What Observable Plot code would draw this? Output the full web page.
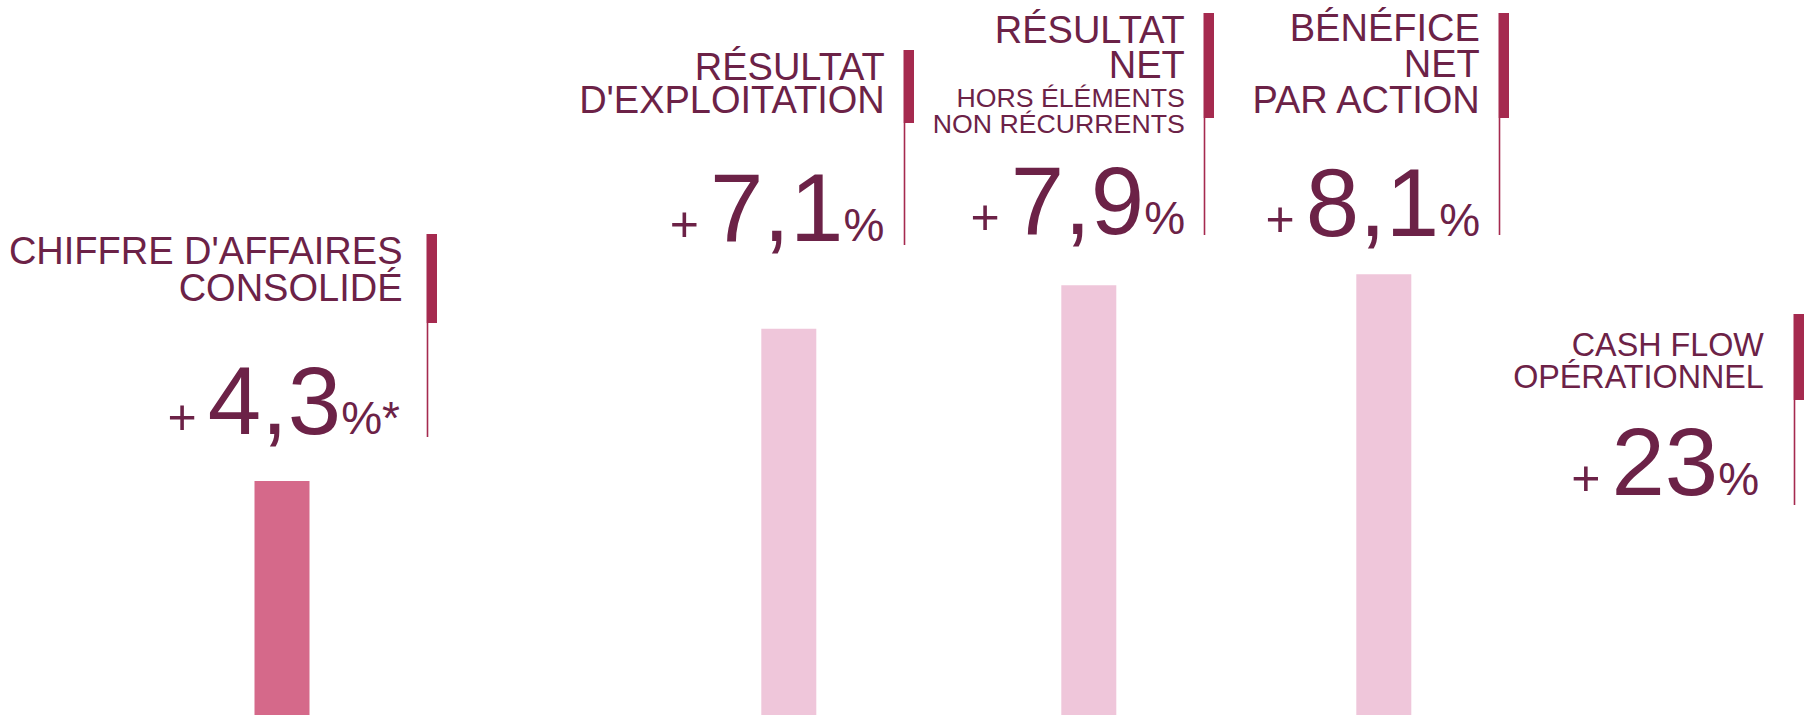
<!DOCTYPE html>
<html>
<head>
<meta charset="utf-8">
<script src="https://cdn.jsdelivr.net/npm/d3@7"></script>
<script src="https://cdn.jsdelivr.net/npm/@observablehq/plot@0.6"></script>
<style>
  html, body { margin: 0; padding: 0; background: #fff; overflow: hidden; }
</style>
</head>
<body>
<div id="chart"></div>
<script>
// ---------- DATA ----------
const categories = [
  ["CHIFFRE D'AFFAIRES", "CONSOLIDÉ"],
  ["RÉSULTAT", "D'EXPLOITATION"],
  ["RÉSULTAT", "NET"],
  ["BÉNÉFICE", "NET", "PAR ACTION"],
  ["CASH FLOW", "OPÉRATIONNEL"]
];
const notes = [[], [], ["HORS ÉLÉMENTS", "NON RÉCURRENTS"], [], []];
const values = [4.3, 7.1, 7.9, 8.1, 23];
const valueLabels = ["4,3", "7,1", "7,9", "8,1", "23"];
const suffixes = ["%*", "%", "%", "%", "%"];

// ---------- LAYOUT / STYLE ----------
const W = 1806, H = 715;
const PX_PER_POINT = 54.4;
const barCenters = [281.5, 788.3, 1088.3, 1383.3, 1678.3];
const BAR_W = 55;
const TEXT = "#6c2247";
const MARK = "#a52a4f";
const BAR_HI = "#d5698a";
const BAR_LO = "#efc6da";
const FONT = "'Liberation Sans', Arial, Helvetica, sans-serif";

const layout = [
  {titleDx: 120.5, numDx: 118,  markDx: 144.5, markTop: 234, markMid: 323, markBot: 437, titleBase: [263, 300], noteBase: [], numBase: 433, titleSize: 38},
  {titleDx: 96,    numDx: 95.5, markDx: 114.7, markTop: 50,  markMid: 123, markBot: 245, titleBase: [79, 112], noteBase: [], numBase: 240, titleSize: 38},
  {titleDx: 96,    numDx: 96.3, markDx: 114.7, markTop: 13,  markMid: 118, markBot: 235, titleBase: [42, 77], noteBase: [106, 132], numBase: 233, titleSize: 38},
  {titleDx: 96,    numDx: 96.3, markDx: 114.7, markTop: 13,  markMid: 118, markBot: 235, titleBase: [40, 76, 112], noteBase: [], numBase: 235, titleSize: 38},
  {titleDx: 85,    numDx: 80.3, markDx: 114.7, markTop: 314, markMid: 400, markBot: 505, titleBase: [355, 387], noteBase: [], numBase: 494, titleSize: 32.3}
];

const yMax = H / PX_PER_POINT;
const yScale = Plot.scale({y: {domain: [0, yMax], range: [H, 0]}});
const py = (px) => yScale.invert(px);

const rows = values.map((v, i) => ({i, value: v, label: valueLabels[i], suffix: suffixes[i]}));

const blockMarks = layout.flatMap((L, i) => {
  const d = [rows[i]];
  const titleRows = categories[i].map((t, k) => ({i, t, base: L.titleBase[k]}));
  const noteRows = notes[i].map((t, k) => ({i, t, base: L.noteBase[k]}));
  return [
    Plot.ruleX(d, {x: "i", dx: L.markDx + 5.25, y1: () => py(L.markTop), y2: () => py(L.markMid), stroke: MARK, strokeWidth: 10.5}),
    Plot.ruleX(d, {x: "i", dx: L.markDx + 1, y1: () => py(L.markMid), y2: () => py(L.markBot), stroke: MARK, strokeWidth: 1.6}),
    Plot.text(titleRows, {x: "i", y: (r) => py(r.base), text: "t", dx: L.titleDx, textAnchor: "end", lineAnchor: "bottom", fontSize: L.titleSize, fill: TEXT}),
    Plot.text(noteRows, {x: "i", y: (r) => py(r.base), text: "t", dx: L.titleDx, textAnchor: "end", lineAnchor: "bottom", fontSize: 26.7, fill: TEXT}),
    Plot.text(d, {x: "i", y: () => py(L.numBase), text: (r) => "+|" + r.label + "|" + r.suffix, dx: L.numDx, textAnchor: "end", lineAnchor: "bottom", fontSize: 96, fill: TEXT})
  ];
});

const chart = Plot.plot({
  width: W,
  height: H,
  margin: 0,
  style: {fontFamily: FONT, background: "#fff", overflow: "visible"},
  x: {type: "linear", domain: [0, 1, 2, 3, 4], range: barCenters, axis: null},
  y: {domain: [0, yMax], axis: null},
  color: {type: "identity"},
  marks: [
    Plot.ruleX(rows.filter((d) => d.value <= yMax), {
      x: "i", y1: 0, y2: "value",
      stroke: (d) => (d.i === 0 ? BAR_HI : BAR_LO),
      strokeWidth: BAR_W
    }),
    ...blockMarks
  ]
});

document.getElementById("chart").appendChild(chart);

// split the big numbers into differently sized parts
const ns = "http://www.w3.org/2000/svg";
Array.from(chart.querySelectorAll("text"))
  .filter((t) => t.textContent.includes("|"))
  .forEach((t) => {
    const [plus, num, suf] = t.textContent.split("|");
    while (t.firstChild) t.removeChild(t.firstChild);
    [[plus, 50, 0], [num, 96, 11], [suf, 46, 0]].forEach(([s, size, dx]) => {
      const ts = document.createElementNS(ns, "tspan");
      ts.textContent = s;
      ts.setAttribute("font-size", size);
      if (dx) ts.setAttribute("dx", dx);
      t.appendChild(ts);
    });
  });
</script>
</body>
</html>
